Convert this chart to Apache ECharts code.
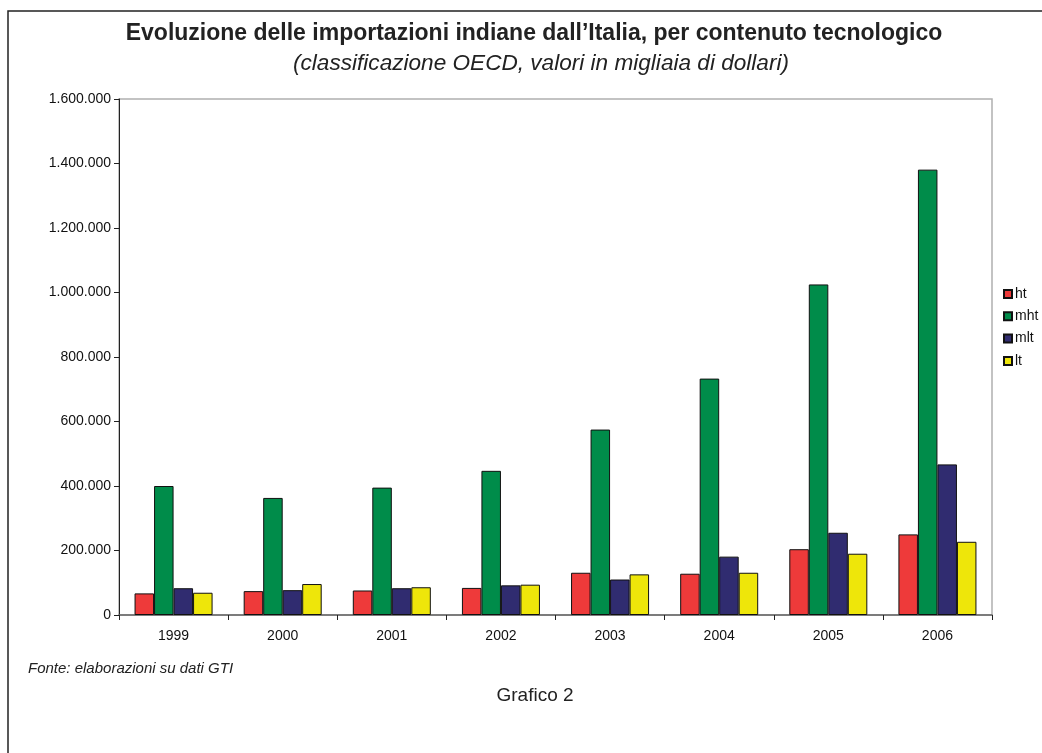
<!DOCTYPE html>
<html><head><meta charset="utf-8">
<script src="https://cdn.jsdelivr.net/npm/echarts@6/dist/echarts.min.js"></script>
<style>html,body{margin:0;padding:0;background:#fff}#c{width:1042px;height:753px}</style>
</head><body><div id="c"></div>
<script>
var categories = ['1999','2000','2001','2002','2003','2004','2005','2006'];
var ht  = [67000, 74000, 76000, 84000, 131000, 128000, 204000, 250000];
var mht = [400000, 363000, 395000, 447000, 575000, 733000, 1025000, 1381000];
var mlt = [83000, 77000, 83000, 92000, 110000, 181000, 255000, 467000];
var lt  = [69000, 96000, 86000, 94000, 126000, 131000, 190000, 227000];
var seriesNames = ['ht','mht','mlt','lt'];
var seriesColors = ['#EE3A3A','#008C4A','#302C70','#EEE60A'];
var titleText = 'Evoluzione delle importazioni indiane dall\u2019Italia, per contenuto tecnologico';
var subtitleText = '(classificazione OECD, valori in migliaia di dollari)';
var sourceText = 'Fonte: elaborazioni su dati GTI';
var captionText = 'Grafico 2';

function fmt(v){ return String(v).replace(/\B(?=(\d{3})+(?!\d))/g,'.'); }
var font = '"Liberation Sans", Arial, sans-serif';
var data = [ht, mht, mlt, lt];
var chart = echarts.init(document.getElementById('c'), null, {renderer:'canvas'});
chart.setOption({
  animation:false,
  backgroundColor:'#fff',
  textStyle:{fontFamily:font},
  title:[
    {text:titleText, left:529, top:17, textAlign:'center', textStyle:{fontSize:23, fontWeight:'bold', color:'#222', fontFamily:font}},
    {text:subtitleText, left:536, top:47, textAlign:'center', textStyle:{fontSize:22.6, fontWeight:'normal', fontStyle:'italic', color:'#222', fontFamily:font}},
    {text:sourceText, left:23, top:656, textStyle:{fontSize:15, fontWeight:'normal', fontStyle:'italic', color:'#222', fontFamily:font}},
    {text:captionText, left:530, top:681, textAlign:'center', textStyle:{fontSize:19, fontWeight:'normal', color:'#222', fontFamily:font}}
  ],
  graphic:[{type:'rect', shape:{x:8, y:11, width:1200, height:900}, style:{fill:'none', stroke:'#222', lineWidth:1.5}, silent:true, z:-1}],
  legend:{orient:'vertical', left:998, top:282, itemWidth:8, itemHeight:8, itemGap:8.3, icon:'rect',
    textStyle:{fontSize:14, color:'#111', padding:[0,0,0,-2]}, data:seriesNames},
  grid:{left:119, right:50, top:99, bottom:138, show:true, borderColor:'#b0b0b0', borderWidth:1.5},
  xAxis:{type:'category', data:categories, boundaryGap:true,
    axisLine:{lineStyle:{color:'#666', width:1.5}},
    axisTick:{show:true, length:5, lineStyle:{color:'#222'}},
    axisLabel:{fontSize:14, color:'#111', margin:14}},
  yAxis:{type:'value', min:0, max:1600000, interval:200000,
    axisLine:{show:true, lineStyle:{color:'#222', width:1}},
    axisTick:{show:true, length:5, lineStyle:{color:'#222'}},
    splitLine:{show:false},
    axisLabel:{fontSize:14, color:'#111', margin:8, formatter:function(v){return fmt(v);}}},
  series: seriesNames.map(function(n,i){
    return {name:n, type:'bar', data:data[i], barGap:'0%', barCategoryGap:'28.5%',
      itemStyle:{color:seriesColors[i], borderColor:'#111', borderWidth:1}};
  })
});
</script></body></html>
